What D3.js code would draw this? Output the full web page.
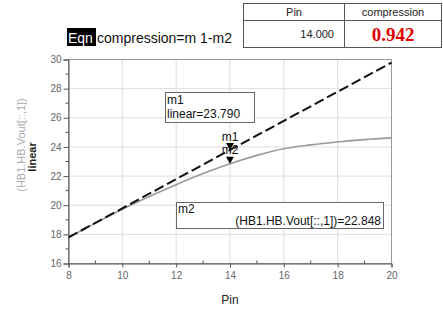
<!DOCTYPE html>
<html>
<head>
<meta charset="utf-8">
<script src="https://cdn.jsdelivr.net/npm/d3@7"></script>
<style>
  body { margin: 0; background: #fff; }
  text { font-family: "Liberation Sans", Arial, sans-serif; }
</style>
</head>
<body>
<div id="chart"></div>
<script>
// swept input power
var pin = [8, 9, 10, 11, 12, 13, 14, 15, 16, 17, 18, 19, 20];
// ideal linear output
var linear = [17.79, 18.79, 19.79, 20.79, 21.79, 22.79, 23.79, 24.79, 25.79, 26.79, 27.79, 28.79, 29.79];
// actual output HB1.HB.Vout[::,1]
var vout = [17.79, 18.77, 19.72, 20.60, 21.41, 22.17, 22.848, 23.42, 23.88, 24.14, 24.34, 24.50, 24.62];
var xTicks = [8, 10, 12, 14, 16, 18, 20];
var yTicks = [16, 18, 20, 22, 24, 26, 28, 30];
var markerPin = 14;
var m1Value = 23.790;
var m2Value = 22.848;
var compression = 0.942;

function init(){
    var w = 443, h = 311;
    var left = 68.5, right = 391.5, top = 59.5, bottom = 263.5;

    var svg = d3.select("#chart").append("svg")
        .attr("width", w).attr("height", h);

    var x = d3.scaleLinear().domain([8, 20]).range([left, right]);
    var y = d3.scaleLinear().domain([16, 30]).range([bottom, top]);

    // grid
    svg.selectAll(".gx").data(xTicks).enter().append("line")
        .attr("x1", d => x(d)).attr("x2", d => x(d))
        .attr("y1", top).attr("y2", bottom)
        .attr("stroke", "#dcdcdc").attr("stroke-width", 1);
    svg.selectAll(".gy").data(yTicks).enter().append("line")
        .attr("x1", left).attr("x2", right)
        .attr("y1", d => y(d)).attr("y2", d => y(d))
        .attr("stroke", "#dcdcdc").attr("stroke-width", 1);

    // plot frame
    svg.append("rect")
        .attr("x", left).attr("y", top)
        .attr("width", right - left).attr("height", bottom - top)
        .attr("fill", "none").attr("stroke", "#999");

    // axes
    var xAxis = svg.append("g").attr("transform", "translate(0," + bottom + ")")
        .call(d3.axisBottom(x).tickValues(xTicks).tickSize(4).tickPadding(4).tickFormat(d3.format("d")));
    var yAxis = svg.append("g").attr("transform", "translate(" + left + ",0)")
        .call(d3.axisLeft(y).tickValues(yTicks).tickSize(5).tickPadding(2).tickFormat(d3.format("d")));
    [xAxis, yAxis].forEach(function(a){
        a.select(".domain").attr("stroke", "#555");
        a.selectAll(".tick line").attr("stroke", "#555");
        a.selectAll("text").attr("fill", "#666").style("font-size", "10px")
            .style("font-family", "Liberation Sans, Arial, sans-serif");
    });

    // minor ticks
    svg.selectAll(".mx").data(d3.range(9, 20, 2)).enter().append("line")
        .attr("x1", d => x(d)).attr("x2", d => x(d))
        .attr("y1", bottom - 3).attr("y2", bottom)
        .attr("stroke", "#555");
    svg.selectAll(".my").data(d3.range(17, 30, 2)).enter().append("line")
        .attr("x1", left - 3).attr("x2", left)
        .attr("y1", d => y(d)).attr("y2", d => y(d))
        .attr("stroke", "#555");

    // curves
    var line = d3.line().x((d, i) => x(pin[i])).y(d => y(d));
    var curve = d3.line().x((d, i) => x(pin[i])).y(d => y(d)).curve(d3.curveMonotoneX);

    svg.append("path").datum(vout).attr("d", curve)
        .attr("fill", "none").attr("stroke", "#9a9a9a").attr("stroke-width", 1.6);
    svg.append("path").datum(linear).attr("d", line)
        .attr("fill", "none").attr("stroke", "#111").attr("stroke-width", 2)
        .attr("stroke-dasharray", "10,4");

    // markers
    var tri = function(v){
        var px = x(markerPin), py = y(v);
        return "M" + (px - 4) + "," + (py - 7) + "L" + (px + 4) + "," + (py - 7) + "L" + px + "," + py + "Z";
    };
    svg.append("path").attr("d", tri(m1Value)).attr("fill", "#000");
    svg.append("path").attr("d", tri(m2Value)).attr("fill", "#000");
    svg.append("text").attr("x", x(markerPin)).attr("y", y(m1Value) - 9)
        .attr("text-anchor", "middle").style("font-size", "12px").attr("fill", "#111").text("m1");
    svg.append("text").attr("x", x(markerPin)).attr("y", y(m2Value) - 10)
        .attr("text-anchor", "middle").style("font-size", "12px").attr("fill", "#111").text("m2");

    // marker readout boxes
    svg.append("rect").attr("x", 165.5).attr("y", 92.5).attr("width", 89).attr("height", 30)
        .attr("fill", "#fff").attr("stroke", "#666");
    svg.append("text").attr("x", 167).attr("y", 104).style("font-size", "12px").attr("fill", "#111").text("m1");
    svg.append("text").attr("x", 167).attr("y", 118).style("font-size", "12px").attr("fill", "#111")
        .text("linear=" + d3.format(".3f")(m1Value));

    svg.append("rect").attr("x", 176.5).attr("y", 202.5).attr("width", 207).attr("height", 26)
        .attr("fill", "#fff").attr("stroke", "#666");
    svg.append("text").attr("x", 178).attr("y", 213).style("font-size", "12px").attr("fill", "#111").text("m2");
    svg.append("text").attr("x", 381).attr("y", 225).attr("text-anchor", "end")
        .style("font-size", "12px").attr("fill", "#111")
        .text("(HB1.HB.Vout[::,1])=" + d3.format(".3f")(m2Value));

    // axis titles
    svg.append("text").attr("x", 230).attr("y", 304).attr("text-anchor", "middle")
        .style("font-size", "12px").attr("fill", "#222").text("Pin");
    svg.append("text").attr("transform", "translate(25,145) rotate(-90)")
        .attr("text-anchor", "middle").style("font-size", "11px").attr("fill", "#aaa")
        .text("(HB1.HB.Vout[::,1])");
    svg.append("text").attr("transform", "translate(36,157) rotate(-90)")
        .attr("text-anchor", "middle").style("font-size", "11px").style("font-weight", "bold")
        .attr("fill", "#222").text("linear");

    // equation
    svg.append("rect").attr("x", 67).attr("y", 28).attr("width", 29).attr("height", 18).attr("fill", "#000");
    svg.append("text").attr("x", 68).attr("y", 42.5).style("font-size", "14px").attr("fill", "#fff").text("Eqn");
    svg.append("text").attr("x", 97).attr("y", 42.5).style("font-size", "14px").attr("fill", "#111")
        .text("compression=m 1-m2");

    // readout table
    svg.append("rect").attr("x", 243.5).attr("y", 3.5).attr("width", 198).attr("height", 44)
        .attr("fill", "#fff").attr("stroke", "#555");
    svg.append("line").attr("x1", 243.5).attr("x2", 441.5).attr("y1", 20.5).attr("y2", 20.5).attr("stroke", "#555");
    svg.append("line").attr("x1", 344.5).attr("x2", 344.5).attr("y1", 3.5).attr("y2", 47.5).attr("stroke", "#555");
    svg.append("text").attr("x", 294).attr("y", 16).attr("text-anchor", "middle")
        .style("font-size", "11px").attr("fill", "#222").text("Pin");
    svg.append("text").attr("x", 393).attr("y", 16).attr("text-anchor", "middle")
        .style("font-size", "11px").attr("fill", "#222").text("compression");
    svg.append("text").attr("x", 334).attr("y", 38).attr("text-anchor", "end")
        .style("font-size", "11px").attr("fill", "#222").text(d3.format(".3f")(markerPin));
    svg.append("text").attr("x", 393).attr("y", 41).attr("text-anchor", "middle")
        .style("font-size", "19px").style("font-weight", "bold")
        .style("font-family", "Liberation Serif, Times New Roman, serif")
        .attr("fill", "#e00000").text(d3.format(".3f")(compression));
}
window.onload = init;
</script>
</body>
</html>
